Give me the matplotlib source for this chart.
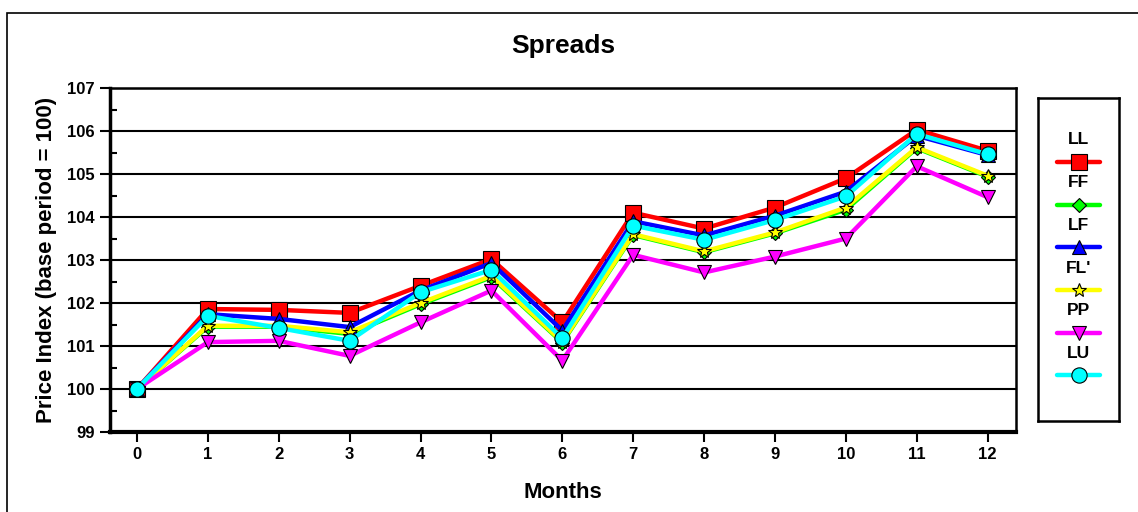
import matplotlib
matplotlib.use("Agg")
import matplotlib.pyplot as plt
from matplotlib.patches import Rectangle
from matplotlib.ticker import MultipleLocator

plt.rcParams["font.family"] = ["Liberation Sans", "DejaVu Sans"]
plt.rcParams["font.weight"] = "bold"

months = list(range(13))
series_names = ["LL", "FF", "LF", "FL'", "PP", "LU"]

ll = [100.0, 101.86, 101.84, 101.77, 102.40, 103.02, 101.55, 104.10, 103.73, 104.22, 104.90, 106.03, 105.54]
ff = [100.0, 101.45, 101.45, 101.28, 101.97, 102.60, 101.08, 103.58, 103.18, 103.62, 104.17, 105.60, 104.94]
lf = [100.0, 101.74, 101.63, 101.44, 102.29, 102.93, 101.36, 103.90, 103.57, 104.03, 104.59, 105.89, 105.44]
fl = [100.0, 101.47, 101.47, 101.32, 102.00, 102.63, 101.10, 103.60, 103.20, 103.64, 104.22, 105.62, 104.96]
pp = [100.0, 101.09, 101.12, 100.77, 101.55, 102.29, 100.66, 103.12, 102.71, 103.08, 103.50, 105.18, 104.46]
lu = [100.0, 101.70, 101.42, 101.12, 102.25, 102.77, 101.18, 103.80, 103.47, 103.93, 104.48, 105.93, 105.46]

values = [ll, ff, lf, fl, pp, lu]
colors = ["#ff0000", "#00ff00", "#0000ff", "#ffff00", "#ff00ff", "#00ffff"]
markers = ["s", "D", "^", "*", "v", "o"]
msizes = [11, 7, 10, 10, 10, 11]

fig = plt.figure(figsize=(11.38, 5.12), dpi=100)

# outer frame (clipped at right/bottom like the original)
fig.patches.append(Rectangle((6.5 / 1138, -0.1), 1.2, 1 - 12.5 / 512 + 0.1,
                             transform=fig.transFigure, fill=False,
                             edgecolor="black", linewidth=1.2))

ax = fig.add_axes([110 / 1138, 1 - 432 / 512, 906 / 1138, 344 / 512])

for name, vals, c, m, ms in zip(series_names, values, colors, markers, msizes):
    ax.plot(months, vals, color=c, linewidth=3.2, marker=m, markersize=ms,
            markerfacecolor=c, markeredgecolor="black", markeredgewidth=0.8,
            label=name)

ax.set_xlim(-0.38, 12.4)
ax.set_ylim(99, 107)
ax.set_xticks(months)
ax.yaxis.set_major_locator(MultipleLocator(1))
ax.yaxis.set_minor_locator(MultipleLocator(0.5))
ax.grid(True, axis="y", which="major", color="black", linewidth=1.5)
ax.set_axisbelow(True)

ax.tick_params(axis="both", which="major", direction="out", length=7,
               width=1.5, labelsize=12, pad=4)
ax.tick_params(axis="y", which="minor", direction="in", length=5, width=1.5)
for lab in ax.get_xticklabels() + ax.get_yticklabels():
    lab.set_fontweight("bold")

ax.spines["left"].set_linewidth(2.5)
ax.spines["bottom"].set_linewidth(3)
ax.spines["top"].set_linewidth(1.8)
ax.spines["right"].set_linewidth(1.8)

ax.set_title("Spreads", fontsize=19, fontweight="bold", pad=25)
ax.set_xlabel("Months", fontsize=16, fontweight="bold", labelpad=14)
ax.set_ylabel("Price Index (base period = 100)", fontsize=16,
              fontweight="bold", labelpad=7)

# legend box with labels above each sample
lax = fig.add_axes([1038 / 1138, 1 - 421 / 512, 81 / 1138, 323 / 512])
lax.set_xlim(0, 1)
lax.set_ylim(0, 1)
lax.set_xticks([])
lax.set_yticks([])
for sp in lax.spines.values():
    sp.set_linewidth(1.8)
step = 42.7 / 323
for i, (name, c, m, ms) in enumerate(zip(series_names, colors, markers, msizes)):
    ty = 0.870 - i * step
    ly = 0.802 - i * step
    lax.text(0.5, ty, name, ha="center", va="center", fontsize=12.5,
             fontweight="bold")
    lax.plot([0.235, 0.765], [ly, ly], color=c, linewidth=3.2,
             solid_capstyle="round")
    lax.plot([0.5], [ly], marker=m, markersize=ms, color=c,
             markeredgecolor="black", markeredgewidth=0.8)

fig.savefig("out.png", dpi=100)
